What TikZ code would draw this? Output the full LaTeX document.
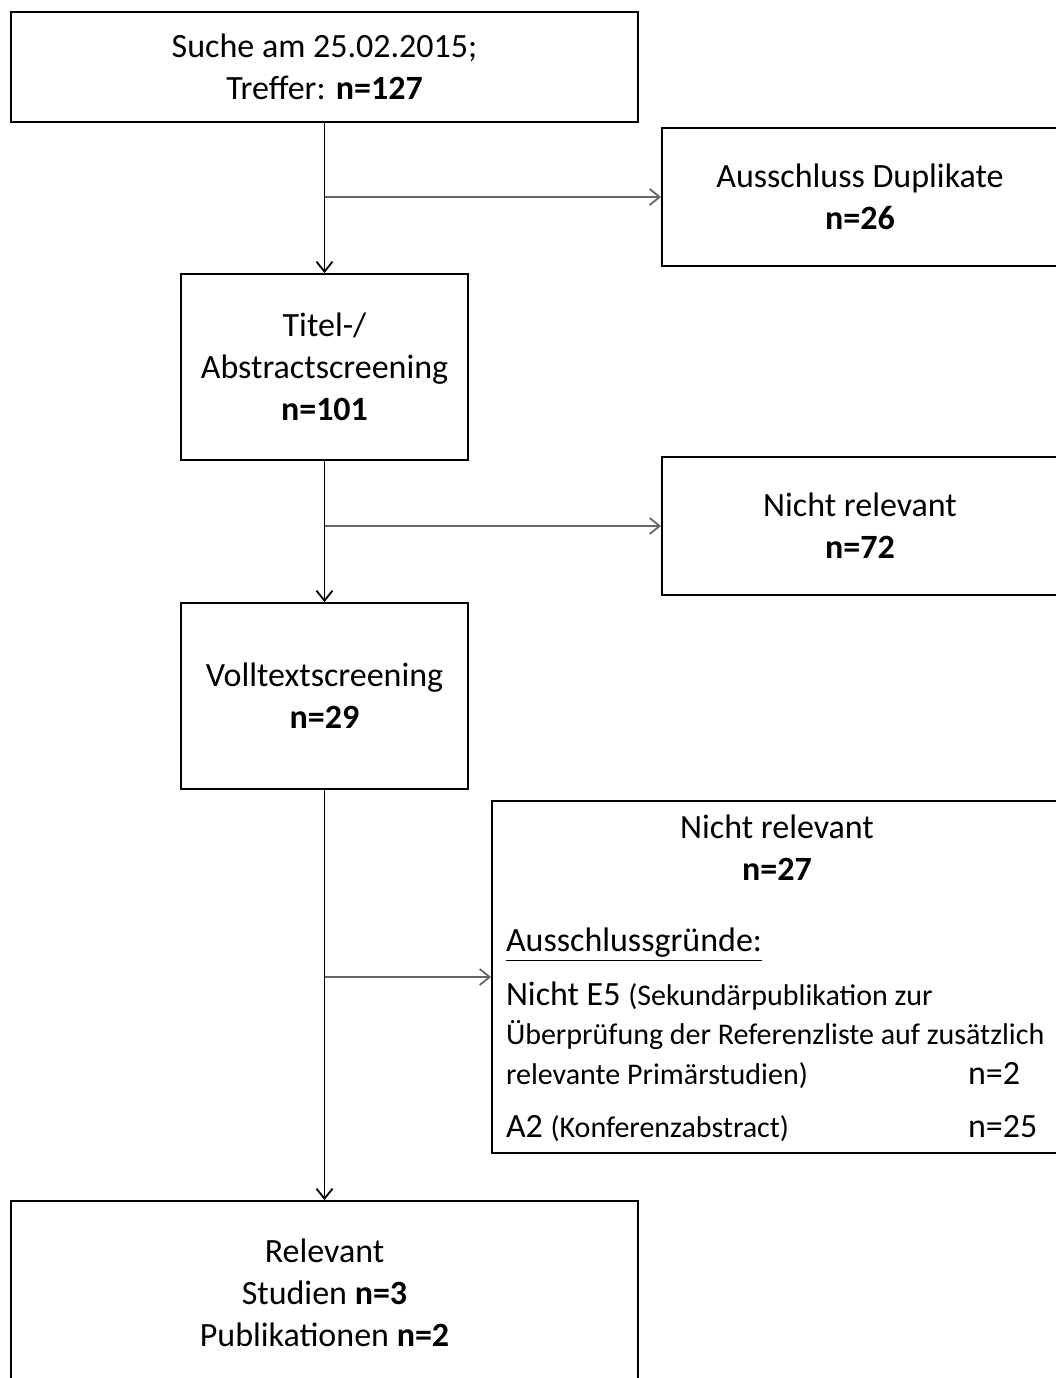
\documentclass[tikz,border=0pt]{standalone}
\usepackage{fontspec}
\setmainfont{Carlito}
\usetikzlibrary{arrows.meta}
\tikzset{
	>={Straight Barb[length=5pt,width=8pt]}
}
\newcommand{\klein}[1]{\mbox{\fontsize{15}{21}\selectfont #1}}

\begin{document}
\begin{tikzpicture}[
	x = 0.5pt, y = -0.5pt,
	every node/.style = {
		font = \fontsize{17}{21}\selectfont
	},
	box/.style = {
		draw,
		line width = 0.9pt,
		align = center,
		inner sep = 0pt
	},
	wide/.style = {
		box,
		minimum width = 313.5pt
	},
	narrow/.style = {
		box,
		minimum width = 143.5pt,
		minimum height = 93pt
	},
	side/.style = {
		box,
		minimum width = 198pt,
		minimum height = 69pt
	},
	flow/.style = {
		->,
		line width = 0.9pt
	},
	branch/.style = {
		flow,
		draw = black!60
	}
	]
	
	\path[use as bounding box, fill=white] (0,0) rectangle (1056,1378);
	
	\node (suche) [wide, minimum height = 55pt] at (324.5,67) {Suche am 25.02.2015;\\ Treffer: \textbf{n=127}};
	\node (duplikate) [side] at (860,197) {Ausschluss Duplikate\\ \textbf{n=26}};
	\node (titel) [narrow] at (324.5,367) {Titel-/\\ Abstractscreening\\ \textbf{n=101}};
	\node (nrtitel) [side] at (860,526) {Nicht relevant\\ \textbf{n=72}};
	\node (volltext) [narrow] at (324.5,696) {Volltextscreening\\ \textbf{n=29}};
	
	\node (nrvoll) [box, minimum width = 285pt, minimum height = 176pt] at (777,977) {%
		\begin{minipage}[c][162pt][t]{271pt}
			\centering Nicht relevant\\ \textbf{n=27}\par
			\vspace{14.5pt}
			\raggedright \underline{Ausschlussgründe:}\\[6pt]
			Nicht E5 \klein{(Sekundärpublikation zur}\\[-1.5pt]
			\klein{Überprüfung der Referenzliste auf zusätzlich}\\[-1pt]
			\klein{relevante Primärstudien)}\hfill\makebox[40pt][l]{n=2}\\[5.5pt]
			A2 \klein{(Konferenzabstract)}\hfill\makebox[40pt][l]{n=25}
		\end{minipage}};
	
	\node (relevant) [wide, minimum height = 92pt] at (324.5,1293) {Relevant\\ Studien \textbf{n=3}\\ Publikationen \textbf{n=2}};
	
	\draw[flow] (suche) -- (titel);
	\draw[branch] (suche.south |- duplikate.west) -- (duplikate);
	\draw[flow] (titel) -- (volltext);
	\draw[branch] (titel.south |- nrtitel.west) -- (nrtitel);
	\draw[flow] (volltext) -- (relevant);
	\draw[branch] (volltext.south |- nrvoll.west) -- (nrvoll);
	
\end{tikzpicture}
\end{document}
